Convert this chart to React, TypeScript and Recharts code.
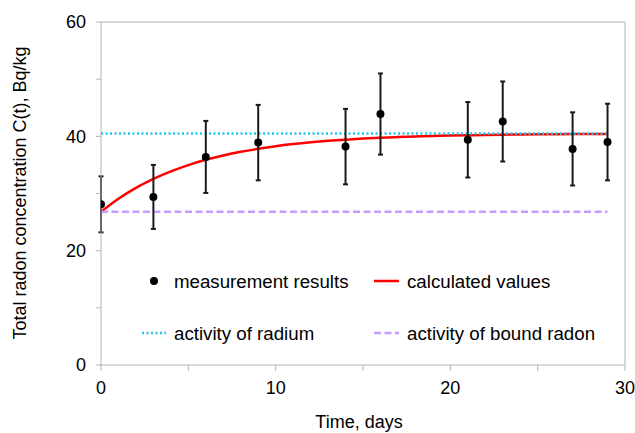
import {
  ComposedChart,
  Line,
  Scatter,
  ErrorBar,
  XAxis,
  YAxis,
  ReferenceLine,
  Customized,
} from 'recharts';

// measurements (days, Bq/kg, +/- error)
const measDays = [0, 3, 6, 9, 14, 16, 21, 23, 27, 29];
const measValues = [28.1, 29.4, 36.4, 38.9, 38.2, 43.9, 39.4, 42.6, 37.8, 39.0];
const measErrors = [4.9, 5.6, 6.3, 6.6, 6.6, 7.1, 6.6, 7.0, 6.4, 6.7];

// calculated curve at each day
const calcDays = [
  0, 1, 2, 3, 4, 5, 6, 7, 8, 9, 10, 11, 12, 13, 14, 15, 16, 17, 18, 19, 20, 21, 22, 23, 24, 25, 26,
  27, 28, 29,
];
const calcValues = [
  26.8, 29.07, 30.97, 32.55, 33.87, 34.97, 35.89, 36.65, 37.29, 37.82, 38.27, 38.64, 38.95, 39.21,
  39.42, 39.6, 39.75, 39.87, 39.98, 40.06, 40.14, 40.2, 40.25, 40.29, 40.32, 40.35, 40.38, 40.4,
  40.42, 40.43,
];

// horizontal levels
const levelDays = [0, 29];
const radiumLevel = [40.5, 40.5];
const boundRadonLevel = [26.8, 26.8];

const xTicks = [0, 5, 10, 15, 20, 25, 30];
const yTicks = [0, 10, 20, 30, 40, 50, 60];

const measData = measDays.map((t, i) => ({ t, v: measValues[i], err: measErrors[i] }));
const calcData = calcDays.map((t, i) => ({ t, v: calcValues[i] }));
const radiumData = levelDays.map((t, i) => ({ t, v: radiumLevel[i] }));
const boundData = levelDays.map((t, i) => ({ t, v: boundRadonLevel[i] }));

const FONT = '"Liberation Sans", Arial, sans-serif';
const AXIS = '#b3b3b3';
const RED = '#ff0000';
const CYAN = '#1ec8f0';
const PURPLE = '#c89bff';
const DOTTED = '2 2.5';
const DASHED = '7 3.5';

function ChartLegend() {
  const txt = { fontFamily: FONT, fontSize: 18.7, fill: '#000' };
  return (
    <g>
      <circle cx={154} cy={281} r={4} fill="#000" />
      <text x={174} y={281} dy="0.355em" style={txt}>measurement results</text>
      <line x1={374} x2={399} y1={281} y2={281} stroke={RED} strokeWidth={2.5} />
      <text x={407} y={281} dy="0.355em" style={txt}>calculated values</text>
      <line x1={142} x2={166} y1={333} y2={333} stroke={CYAN} strokeWidth={2.5} strokeDasharray={DOTTED} />
      <text x={174} y={333} dy="0.355em" style={txt}>activity of radium</text>
      <line x1={374} x2={399} y1={333} y2={333} stroke={PURPLE} strokeWidth={2.5} strokeDasharray={DASHED} />
      <text x={407} y={333} dy="0.355em" style={txt}>activity of bound radon</text>
      <text
        x={20}
        y={193}
        textAnchor="middle"
        dy="0.355em"
        transform="rotate(-90, 20, 193)"
        style={{ fontFamily: FONT, fontSize: 18, fill: '#000' }}
      >
        Total radon concentration C(t), Bq/kg
      </text>
    </g>
  );
}

export default function App() {
  return (
    <div style={{ position: 'absolute', left: 0, top: 0, background: '#fff' }}>
      <ComposedChart
        width={635}
        height={433}
        margin={{ top: 22, right: 10, bottom: 0, left: 0 }}
      >
        <XAxis
          type="number"
          dataKey="t"
          domain={[0, 30]}
          ticks={xTicks}
          tickFormatter={(v: number) => (v % 10 === 0 ? String(v) : '')}
          tickSize={6}
          tickMargin={10}
          height={68}
          stroke={AXIS}
          tick={{ fill: '#000', fontSize: 18, fontFamily: FONT }}
          label={{
            value: 'Time, days',
            position: 'insideBottom',
            offset: 5,
            dx: -4,
            style: { fill: '#000', fontSize: 18, fontFamily: FONT },
          }}
          allowDataOverflow
        />
        <YAxis
          type="number"
          dataKey="v"
          domain={[0, 60]}
          ticks={yTicks}
          tickFormatter={(v: number) => (v % 20 === 0 ? String(v) : '')}
          tickSize={5}
          tickMargin={10}
          width={101}
          stroke={AXIS}
          tick={{ fill: '#000', fontSize: 18, fontFamily: FONT }}
          allowDataOverflow
        />
        <ReferenceLine y={60} stroke={AXIS} />
        <ReferenceLine x={30} stroke={AXIS} />

        <Line
          data={calcData}
          dataKey="v"
          type="monotone"
          stroke={RED}
          strokeWidth={2.5}
          dot={false}
          isAnimationActive={false}
        />
        <Line
          data={radiumData}
          dataKey="v"
          stroke={CYAN}
          strokeWidth={2.5}
          strokeDasharray={DOTTED}
          dot={false}
          isAnimationActive={false}
        />
        <Line
          data={boundData}
          dataKey="v"
          stroke={PURPLE}
          strokeWidth={2.5}
          strokeDasharray={DASHED}
          dot={false}
          isAnimationActive={false}
        />
        <Scatter
          data={measData}
          dataKey="v"
          fill="#000"
          isAnimationActive={false}
          shape={(p: any) => <circle cx={p.cx} cy={p.cy} r={4} fill="#000" />}
        >
          <ErrorBar dataKey="err" direction="y" width={2.5} stroke="#1a1a1a" strokeWidth={2} />
        </Scatter>
        <Customized component={ChartLegend} />
      </ComposedChart>
    </div>
  );
}
